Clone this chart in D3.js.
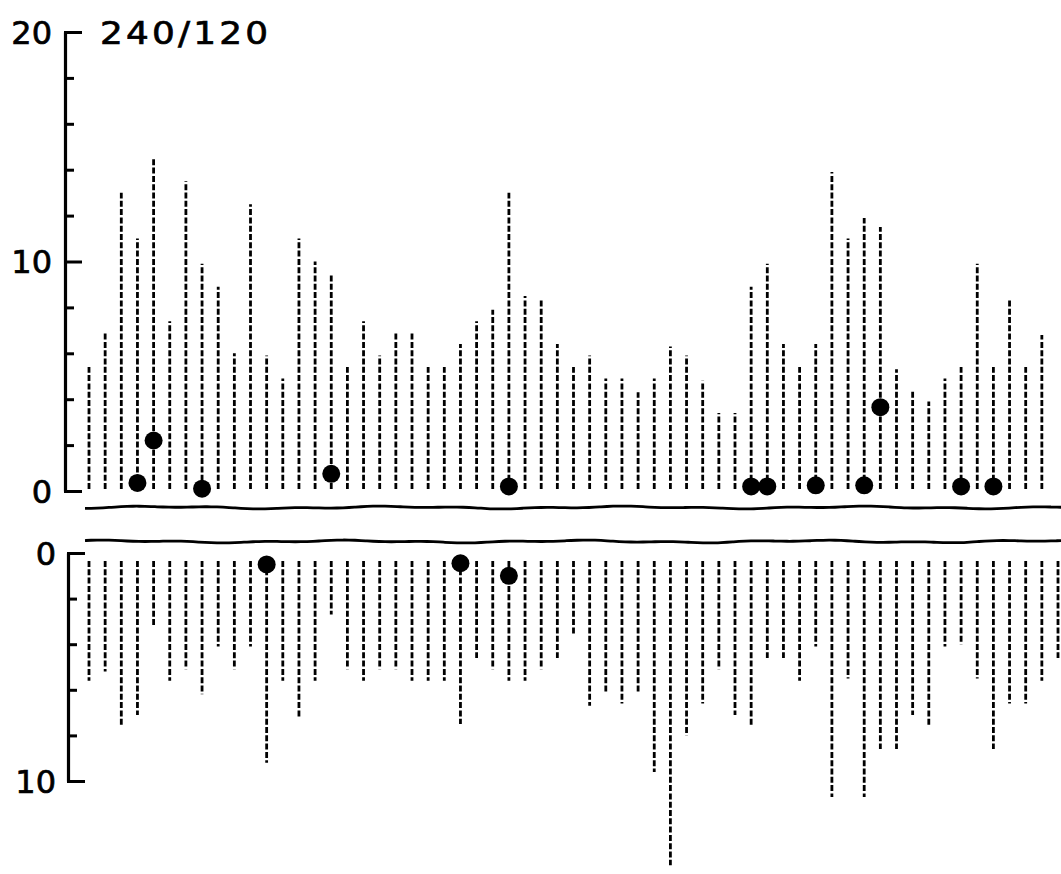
<!DOCTYPE html>
<html>
<head>
<meta charset="utf-8">
<script src="https://cdn.jsdelivr.net/npm/d3@7"></script>
<style>
  html, body { margin: 0; padding: 0; background: #fff; }
  svg { display: block; }
  text { font-family: "DejaVu Sans", sans-serif; fill: #000; stroke: #000; stroke-width: 0.7px; }
</style>
</head>
<body>
<svg id="chart" width="1061" height="874"></svg>
<script>
// Column index along the record (61 samples)
const columns = d3.range(1, 62);

// Upper trace: range of each sample (units 0..20); last column has no upper reading
const upperValues = [
  5.4, 6.9, 13.0, 11.0, 14.5, 7.4, 13.5, 9.9, 8.9, 6.0,
  12.5, 5.9, 4.9, 11.0, 10.0, 9.4, 5.4, 7.4, 5.9, 6.9,
  6.9, 5.4, 5.4, 6.4, 7.4, 7.9, 13.0, 8.5, 8.4, 6.4,
  5.4, 5.9, 4.9, 4.9, 4.3, 4.9, 6.3, 5.9, 4.8, 3.4,
  3.4, 8.9, 9.9, 6.4, 5.4, 6.4, 13.9, 11.0, 11.9, 11.5,
  5.3, 4.4, 3.9, 4.9, 5.4, 9.9, 5.4, 8.3, 5.4, 6.8,
  null
];

// Lower trace: range of each sample, plotted downward (units 0..10)
const lowerValues = [
  5.6, 5.2, 7.6, 7.1, 3.2, 5.6, 5.1, 6.2, 4.1, 5.1,
  4.1, 9.2, 5.6, 7.2, 5.6, 2.7, 5.1, 5.6, 5.1, 5.1,
  5.6, 5.6, 5.6, 7.5, 4.6, 5.1, 5.6, 5.6, 5.1, 4.6,
  3.6, 6.7, 6.1, 6.6, 6.1, 9.6, 13.7, 8.0, 6.6, 5.1,
  7.1, 7.6, 4.6, 4.6, 5.6, 4.1, 10.7, 5.5, 10.7, 8.6,
  8.6, 7.1, 7.6, 4.1, 4.0, 5.5, 8.6, 6.6, 6.6, 5.6,
  4.6
];

// Filled markers on the upper trace
const upperDotColumns = [4, 5, 8, 16, 27, 42, 43, 46, 49, 50, 55, 57];
const upperDotValues  = [0.35, 2.2, 0.1, 0.75, 0.2, 0.2, 0.2, 0.25, 0.25, 3.65, 0.2, 0.2];

// Filled markers on the lower trace
const lowerDotColumns = [12, 24, 27];
const lowerDotValues  = [0.5, 0.45, 1.0];

// Axis ticks
const upperTicks = d3.range(0, 21, 2);
const upperTickLabels = [0, 10, 20];
const lowerTicks = d3.range(0, 11, 2);
const lowerTickLabels = [0, 10];

const title = "240/120";

const svg = d3.select("#chart");

const x = d3.scalePoint().domain(columns).range([89, 1058]);
const yUp = d3.scaleLinear().domain([0, 20]).range([491, 32]);
const yLo = d3.scaleLinear().domain([0, 10]).range([553, 781]);

const upperAxisX = 65;
const lowerAxisX = 68;

// ---- axes ----
function drawAxis(scale, ticks, labels, ax, labelGap) {
  const g = svg.append("g").attr("transform", `translate(${ax},0)`);
  const axis = d3.axisRight(scale).tickValues(ticks).tickSizeOuter(0).tickFormat("");
  g.call(axis);
  g.select(".domain").attr("stroke", "#000").attr("stroke-width", 3.2);
  g.selectAll(".tick line")
    .attr("stroke", "#000")
    .attr("stroke-width", 3)
    .attr("x1", -1)
    .attr("x2", d => labels.includes(d) ? 17 : 9);
  g.selectAll(".tick text").remove();
  svg.append("g").selectAll("text")
    .data(labels)
    .join("text")
    .attr("x", ax - labelGap)
    .attr("y", d => scale(d))
    .attr("dy", "0.36em")
    .attr("text-anchor", "end")
    .attr("font-size", 32)
    .text(d => d);
}
drawAxis(yUp, upperTicks, upperTickLabels, upperAxisX, 13);
drawAxis(yLo, lowerTicks, lowerTickLabels, lowerAxisX, 12);

// ---- title (wide lettering) ----
svg.append("text")
  .attr("transform", "translate(100,44) scale(1.12,1)")
  .attr("font-size", 32)
  .attr("textLength", 150)
  .attr("lengthAdjust", "spacing")
  .text(title);

// ---- baseline separators (slightly uneven, as if inked by hand) ----
function separator(yPos, phase) {
  const pts = d3.range(85, 1066, 6).map(px => [px,
    yPos + 0.9 * Math.sin(px / 37 + phase) + 0.6 * Math.sin(px / 13 + 2 * phase)]);
  svg.append("path")
    .attr("d", d3.line().curve(d3.curveBasis)(pts))
    .attr("fill", "none")
    .attr("stroke", "#000")
    .attr("stroke-width", 2.8);
}
separator(507.5, 0.4);
separator(541.5, 1.7);

// ---- dashed range lines ----
const upperData = columns.map((c, i) => ({ c, v: upperValues[i] })).filter(d => d.v != null);
svg.append("g").selectAll("line")
  .data(upperData)
  .join("line")
  .attr("x1", d => x(d.c)).attr("x2", d => x(d.c))
  .attr("y1", yUp(0) - 2).attr("y2", d => yUp(d.v))
  .attr("stroke", "#000")
  .attr("stroke-width", 2.8)
  .attr("stroke-dasharray", "6,2.3");

const lowerData = columns.map((c, i) => ({ c, v: lowerValues[i] })).filter(d => d.v != null);
svg.append("g").selectAll("line")
  .data(lowerData)
  .join("line")
  .attr("x1", d => x(d.c)).attr("x2", d => x(d.c))
  .attr("y1", yLo(0) + 8).attr("y2", d => yLo(d.v))
  .attr("stroke", "#000")
  .attr("stroke-width", 2.8)
  .attr("stroke-dasharray", "6,2.3");

// ---- markers ----
svg.append("g").selectAll("circle")
  .data(upperDotColumns.map((c, i) => ({ c, v: upperDotValues[i] })))
  .join("circle")
  .attr("cx", d => x(d.c))
  .attr("cy", d => yUp(d.v))
  .attr("r", 9)
  .attr("fill", "#000");

svg.append("g").selectAll("circle")
  .data(lowerDotColumns.map((c, i) => ({ c, v: lowerDotValues[i] })))
  .join("circle")
  .attr("cx", d => x(d.c))
  .attr("cy", d => yLo(d.v))
  .attr("r", 9)
  .attr("fill", "#000");
</script>
</body>
</html>
